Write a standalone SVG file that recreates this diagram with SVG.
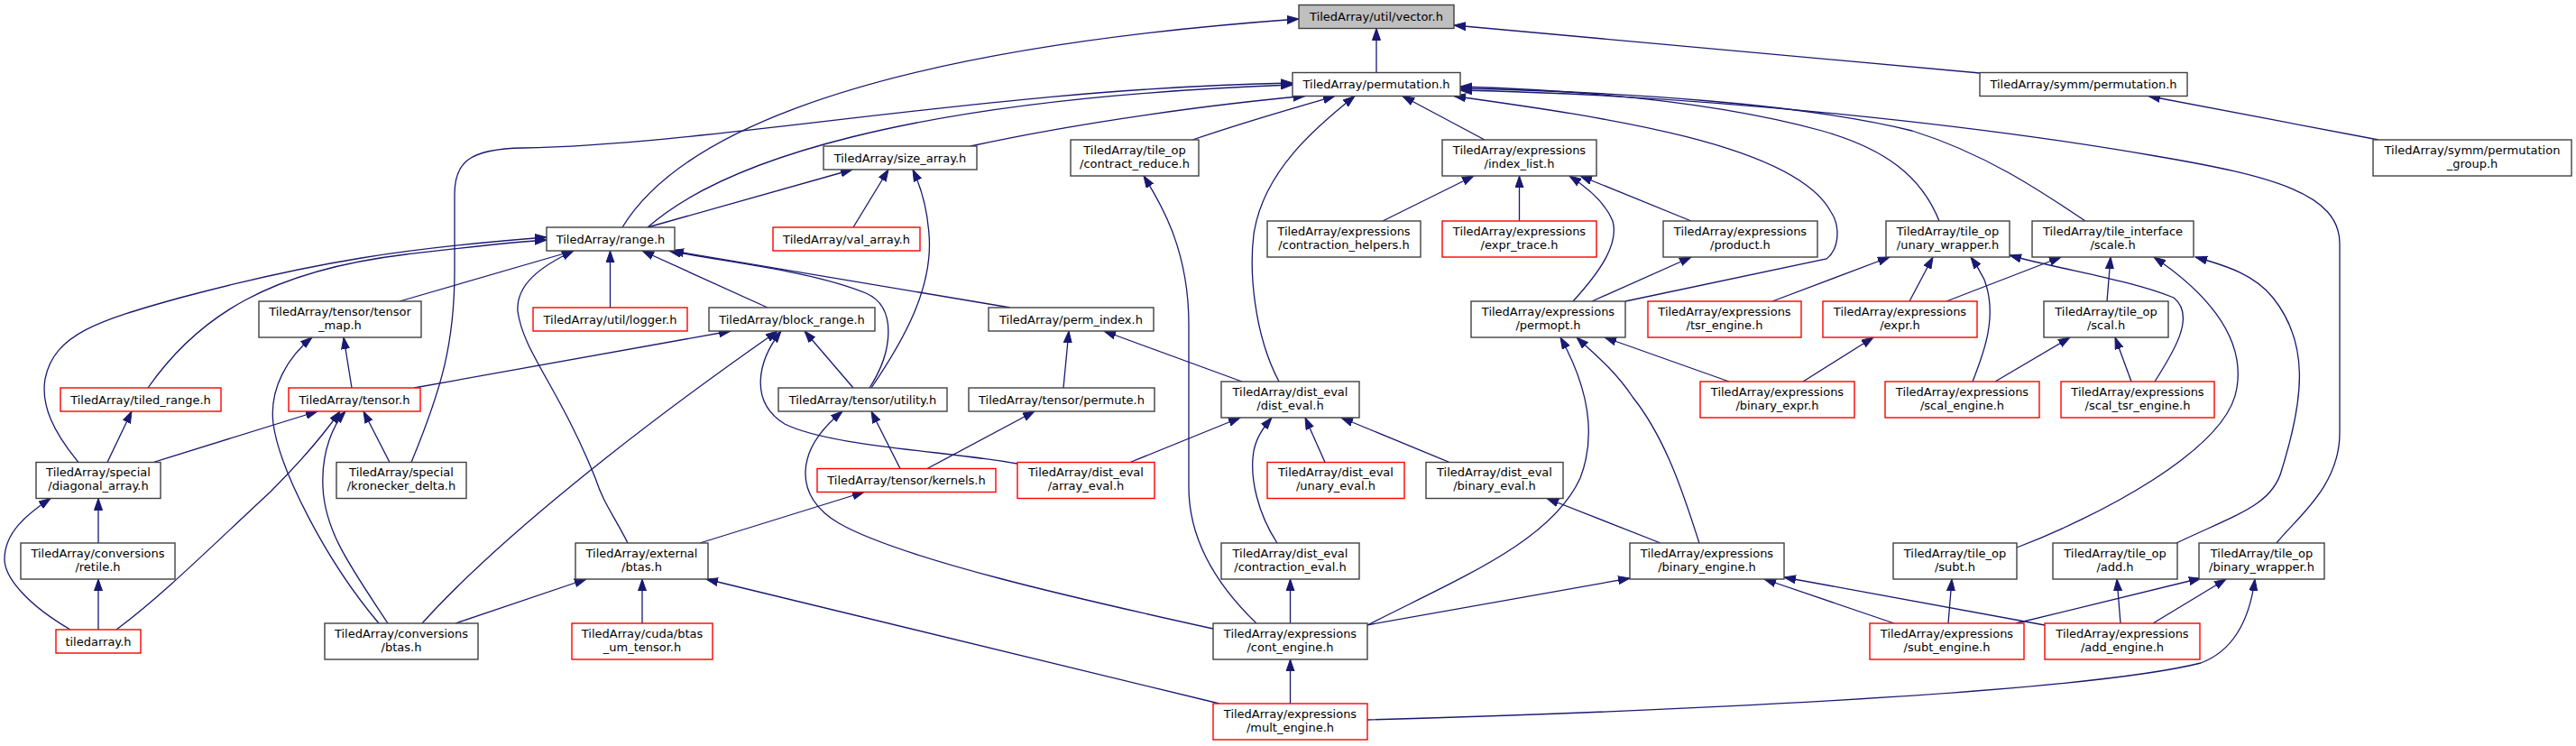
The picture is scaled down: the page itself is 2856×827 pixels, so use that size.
<svg xmlns="http://www.w3.org/2000/svg" width="2856" height="827" viewBox="0 0 2856 827">
<defs>
<style>
.n rect{fill:#fff;stroke:#404040;stroke-width:1.4}
.n.r rect{stroke:#ff0000}
.n.root rect{fill:#bfbfbf}
text{font-family:"DejaVu Sans",sans-serif;font-size:13px;text-anchor:middle;fill:#000}
.e path{fill:none;stroke:#191970;stroke-width:1.3;marker-end:url(#a)}
</style>
<marker id="a" markerWidth="14" markerHeight="10" refX="13" refY="5" orient="auto" markerUnits="userSpaceOnUse"><path d="M0,0.5 L13,5 L0,9.5 z" fill="#191970" stroke="#191970" stroke-width="1"/></marker>
</defs>
<rect width="2856" height="827" fill="#fff"/>
<g id="edges" class="e">
<path d="M1526,80.5 L1526,31.5"/>
<path d="M2195,81 L1612,28"/>
<path d="M690,252 C740,170 900,60 1440,21"/>
<path d="M2637,155 L2382,106.5"/>
<path d="M718,252 C800,180 1000,110 1433,94"/>
<path d="M456,512.5 C490,430 504,380 504,300 L504,215 C504,180 520,165 580,164 C800,160 1100,98 1433,92"/>
<path d="M1076,162 C1200,135 1350,115 1447,106.5"/>
<path d="M1322,155 C1380,135 1440,118 1480,106.5"/>
<path d="M1418,423 C1390,370 1385,300 1390,260 C1400,190 1460,140 1502,106.5"/>
<path d="M1646,155 L1555,106.5"/>
<path d="M1802,334 L2025,287 C2040,275 2040,250 2030,235 C1990,160 1780,130 1612,106.5"/>
<path d="M2150,245 C2130,195 2090,165 2020,145 C1900,112 1750,100 1619,96"/>
<path d="M2312,245 C2260,210 2200,170 2120,145 C2000,115 1800,102 1619,98"/>
<path d="M2524,602 C2545,575 2594,540 2594,480 L2594,270 C2594,215 2520,195 2390,173 C2200,140 1900,106 1619,100"/>
<path d="M718,252 L945,188"/>
<path d="M946,252 L985,188"/>
<path d="M966,430 C1000,380 1035,320 1030,260 C1028,230 1020,205 1012,188"/>
<path d="M1393,691 C1340,640 1318,590 1318,540 L1318,360 C1318,280 1290,230 1268,195"/>
<path d="M1533,245 L1634,195"/>
<path d="M1684.5,245 L1684.5,195"/>
<path d="M1744,334 C1775,300 1795,270 1788,245 C1780,225 1760,208 1740,195"/>
<path d="M1875,245 L1752,195"/>
<path d="M1765,334 L1875,285"/>
<path d="M164,430 C220,350 300,300 450,282 C520,274 570,268 606,266"/>
<path d="M87,512.5 C60,480 45,450 50,420 C60,370 110,355 200,330 C350,290 450,275 606,263"/>
<path d="M443,334 L636,278"/>
<path d="M696,602 C680,570 670,560 660,530 C620,430 580,390 574,345 C572,315 600,295 636,278"/>
<path d="M676.5,341 L676.5,278"/>
<path d="M851,341 L712,278"/>
<path d="M964,430 C990,390 995,340 960,325 C900,300 800,290 742,278"/>
<path d="M1120,341 L745,278"/>
<path d="M390,430 L381,374"/>
<path d="M420,691 C360,620 310,520 303,470 C298,430 320,395 346,374"/>
<path d="M170,512.5 L352,456"/>
<path d="M129,698 C180,660 230,610 300,545 C330,515 360,480 377,456"/>
<path d="M430,691 C390,630 360,590 358,540 C356,500 370,470 383,456"/>
<path d="M432,512.5 L403,456"/>
<path d="M459,430 L810,367"/>
<path d="M119,512.5 L146,456"/>
<path d="M109,602 L109,552.5"/>
<path d="M78,698 C30,670 5,640 5,620 C5,590 30,570 56,552.5"/>
<path d="M109,698 L109,642"/>
<path d="M946,430 L892,367"/>
<path d="M468,691 C550,600 700,480 862,367"/>
<path d="M1128,514 C1050,500 920,495 870,470 C830,445 840,400 866,367"/>
<path d="M1179,430 L1185,367"/>
<path d="M1377,423 L1224,367"/>
<path d="M998,519.5 L966,456"/>
<path d="M1345,697 C1200,665 1000,620 930,580 C880,550 880,500 934,456"/>
<path d="M1028,519.5 L1147,456"/>
<path d="M776,602 L958,545.5"/>
<path d="M1253,512.5 L1375,463"/>
<path d="M1469,512.5 L1447,463"/>
<path d="M1607,512.5 L1487,463"/>
<path d="M1416,602 C1395,570 1385,530 1390,500 C1393,485 1400,475 1410,463"/>
<path d="M1841,602 L1715,552.5"/>
<path d="M1430.5,691 L1430.5,642"/>
<path d="M1430.5,780 L1430.5,731"/>
<path d="M1515,693 L1807,641"/>
<path d="M2100,691 L1956,642"/>
<path d="M2267,693 L1978,640"/>
<path d="M1516,693 C1620,640 1720,600 1752,530 C1775,470 1750,410 1730,374"/>
<path d="M1884,602 C1870,560 1850,490 1810,440 C1790,410 1765,390 1748,374"/>
<path d="M1917,423 L1779,374"/>
<path d="M1999,423 L2077,374"/>
<path d="M1965,334 L2095,285"/>
<path d="M2117,334 L2143,285"/>
<path d="M2187,423 C2200,390 2215,350 2200,310 C2195,300 2190,292 2185,285"/>
<path d="M2389,423 C2410,390 2435,350 2410,330 C2360,310 2290,300 2228,283"/>
<path d="M2158,334 L2285,285"/>
<path d="M2336,334 L2340,285"/>
<path d="M2236,607 C2320,575 2470,500 2480,430 C2490,370 2440,320 2388,285"/>
<path d="M2413,602 C2480,570 2520,560 2530,520 C2555,440 2560,380 2520,330 C2500,305 2470,295 2434,285"/>
<path d="M2212,423 L2295,374"/>
<path d="M2363,423 L2345,374"/>
<path d="M2160,691 L2164,642"/>
<path d="M2351,691 L2347,642"/>
<path d="M2235,691 L2440,641"/>
<path d="M2387,691 L2468,642"/>
<path d="M1516,798 C1800,790 2300,770 2440,735 C2480,720 2495,680 2500,642"/>
<path d="M505,691 L650,642"/>
<path d="M712,691 L712,642"/>
<path d="M1352,780 L783,642"/>
</g>
<g id="n1" class="n root"><rect x="1440" y="5.5" width="172" height="26"/><text x="1526" y="23">TiledArray/util/vector.h</text></g>
<g id="n2" class="n"><rect x="1433" y="80.5" width="186" height="26"/><text x="1526" y="98">TiledArray/permutation.h</text></g>
<g id="n3" class="n"><rect x="2195" y="80.5" width="230" height="26"/><text x="2310" y="98">TiledArray/symm/permutation.h</text></g>
<g id="n4" class="n"><rect x="913" y="162" width="170" height="26"/><text x="998" y="179.5">TiledArray/size_array.h</text></g>
<g id="n5" class="n"><rect x="1187" y="155" width="142" height="40"/><text x="1258" y="170.5">TiledArray/tile_op</text><text x="1258" y="185.5">/contract_reduce.h</text></g>
<g id="n6" class="n"><rect x="1599" y="155" width="171" height="40"/><text x="1684.5" y="170.5">TiledArray/expressions</text><text x="1684.5" y="185.5">/index_list.h</text></g>
<g id="n7" class="n"><rect x="2631" y="155" width="220" height="40"/><text x="2741" y="170.5">TiledArray/symm/permutation</text><text x="2741" y="185.5">_group.h</text></g>
<g id="n8" class="n"><rect x="606" y="252" width="142" height="26"/><text x="677" y="269.5">TiledArray/range.h</text></g>
<g id="n9" class="n r"><rect x="857" y="252" width="163" height="26"/><text x="938.5" y="269.5">TiledArray/val_array.h</text></g>
<g id="n10" class="n"><rect x="1405" y="245" width="170" height="40"/><text x="1490" y="260.5">TiledArray/expressions</text><text x="1490" y="275.5">/contraction_helpers.h</text></g>
<g id="n11" class="n r"><rect x="1599" y="245" width="171" height="40"/><text x="1684.5" y="260.5">TiledArray/expressions</text><text x="1684.5" y="275.5">/expr_trace.h</text></g>
<g id="n12" class="n"><rect x="1844" y="245" width="171" height="40"/><text x="1929.5" y="260.5">TiledArray/expressions</text><text x="1929.5" y="275.5">/product.h</text></g>
<g id="n13" class="n"><rect x="2091" y="245" width="137" height="40"/><text x="2159.5" y="260.5">TiledArray/tile_op</text><text x="2159.5" y="275.5">/unary_wrapper.h</text></g>
<g id="n14" class="n"><rect x="2253" y="245" width="179" height="40"/><text x="2342.5" y="260.5">TiledArray/tile_interface</text><text x="2342.5" y="275.5">/scale.h</text></g>
<g id="n15" class="n"><rect x="287" y="334" width="180" height="40"/><text x="377" y="349.5">TiledArray/tensor/tensor</text><text x="377" y="364.5">_map.h</text></g>
<g id="n16" class="n r"><rect x="591" y="341" width="171" height="26"/><text x="676.5" y="358.5">TiledArray/util/logger.h</text></g>
<g id="n17" class="n"><rect x="786" y="341" width="184" height="26"/><text x="878" y="358.5">TiledArray/block_range.h</text></g>
<g id="n18" class="n"><rect x="1096" y="341" width="183" height="26"/><text x="1187.5" y="358.5">TiledArray/perm_index.h</text></g>
<g id="n19" class="n"><rect x="1631" y="334" width="171" height="40"/><text x="1716.5" y="349.5">TiledArray/expressions</text><text x="1716.5" y="364.5">/permopt.h</text></g>
<g id="n20" class="n r"><rect x="1827" y="334" width="170" height="40"/><text x="1912" y="349.5">TiledArray/expressions</text><text x="1912" y="364.5">/tsr_engine.h</text></g>
<g id="n21" class="n r"><rect x="2021" y="334" width="171" height="40"/><text x="2106.5" y="349.5">TiledArray/expressions</text><text x="2106.5" y="364.5">/expr.h</text></g>
<g id="n22" class="n"><rect x="2266" y="334" width="138" height="40"/><text x="2335" y="349.5">TiledArray/tile_op</text><text x="2335" y="364.5">/scal.h</text></g>
<g id="n23" class="n r"><rect x="67" y="430" width="178" height="26"/><text x="156" y="447.5">TiledArray/tiled_range.h</text></g>
<g id="n24" class="n r"><rect x="320" y="430" width="146" height="26"/><text x="393" y="447.5">TiledArray/tensor.h</text></g>
<g id="n25" class="n"><rect x="863" y="430" width="187" height="26"/><text x="956.5" y="447.5">TiledArray/tensor/utility.h</text></g>
<g id="n26" class="n"><rect x="1074" y="430" width="206" height="26"/><text x="1177" y="447.5">TiledArray/tensor/permute.h</text></g>
<g id="n27" class="n"><rect x="1354" y="423" width="153" height="40"/><text x="1430.5" y="438.5">TiledArray/dist_eval</text><text x="1430.5" y="453.5">/dist_eval.h</text></g>
<g id="n28" class="n r"><rect x="1885" y="423" width="171" height="40"/><text x="1970.5" y="438.5">TiledArray/expressions</text><text x="1970.5" y="453.5">/binary_expr.h</text></g>
<g id="n29" class="n r"><rect x="2090" y="423" width="171" height="40"/><text x="2175.5" y="438.5">TiledArray/expressions</text><text x="2175.5" y="453.5">/scal_engine.h</text></g>
<g id="n30" class="n r"><rect x="2285" y="423" width="170" height="40"/><text x="2370" y="438.5">TiledArray/expressions</text><text x="2370" y="453.5">/scal_tsr_engine.h</text></g>
<g id="n31" class="n"><rect x="40" y="512.5" width="138" height="40"/><text x="109" y="528">TiledArray/special</text><text x="109" y="543">/diagonal_array.h</text></g>
<g id="n32" class="n"><rect x="373" y="512.5" width="144" height="40"/><text x="445" y="528">TiledArray/special</text><text x="445" y="543">/kronecker_delta.h</text></g>
<g id="n33" class="n r"><rect x="906" y="519.5" width="198" height="26"/><text x="1005" y="537">TiledArray/tensor/kernels.h</text></g>
<g id="n34" class="n r"><rect x="1128" y="512.5" width="152" height="40"/><text x="1204" y="528">TiledArray/dist_eval</text><text x="1204" y="543">/array_eval.h</text></g>
<g id="n35" class="n r"><rect x="1405" y="512.5" width="152" height="40"/><text x="1481" y="528">TiledArray/dist_eval</text><text x="1481" y="543">/unary_eval.h</text></g>
<g id="n36" class="n"><rect x="1581" y="512.5" width="152" height="40"/><text x="1657" y="528">TiledArray/dist_eval</text><text x="1657" y="543">/binary_eval.h</text></g>
<g id="n37" class="n"><rect x="23" y="602" width="171" height="40"/><text x="108.5" y="617.5">TiledArray/conversions</text><text x="108.5" y="632.5">/retile.h</text></g>
<g id="n38" class="n"><rect x="638" y="602" width="147" height="40"/><text x="711.5" y="617.5">TiledArray/external</text><text x="711.5" y="632.5">/btas.h</text></g>
<g id="n39" class="n"><rect x="1354" y="602" width="153" height="40"/><text x="1430.5" y="617.5">TiledArray/dist_eval</text><text x="1430.5" y="632.5">/contraction_eval.h</text></g>
<g id="n40" class="n"><rect x="1807" y="602" width="171" height="40"/><text x="1892.5" y="617.5">TiledArray/expressions</text><text x="1892.5" y="632.5">/binary_engine.h</text></g>
<g id="n41" class="n"><rect x="2099" y="602" width="137" height="40"/><text x="2167.5" y="617.5">TiledArray/tile_op</text><text x="2167.5" y="632.5">/subt.h</text></g>
<g id="n42" class="n"><rect x="2276" y="602" width="138" height="40"/><text x="2345" y="617.5">TiledArray/tile_op</text><text x="2345" y="632.5">/add.h</text></g>
<g id="n43" class="n"><rect x="2438" y="602" width="139" height="40"/><text x="2507.5" y="617.5">TiledArray/tile_op</text><text x="2507.5" y="632.5">/binary_wrapper.h</text></g>
<g id="n44" class="n r"><rect x="62" y="698" width="94" height="26"/><text x="109" y="715.5">tiledarray.h</text></g>
<g id="n45" class="n"><rect x="360" y="691" width="170" height="40"/><text x="445" y="706.5">TiledArray/conversions</text><text x="445" y="721.5">/btas.h</text></g>
<g id="n46" class="n r"><rect x="634" y="691" width="156" height="40"/><text x="712" y="706.5">TiledArray/cuda/btas</text><text x="712" y="721.5">_um_tensor.h</text></g>
<g id="n47" class="n"><rect x="1345" y="691" width="171" height="40"/><text x="1430.5" y="706.5">TiledArray/expressions</text><text x="1430.5" y="721.5">/cont_engine.h</text></g>
<g id="n48" class="n r"><rect x="2073" y="691" width="171" height="40"/><text x="2158.5" y="706.5">TiledArray/expressions</text><text x="2158.5" y="721.5">/subt_engine.h</text></g>
<g id="n49" class="n r"><rect x="2267" y="691" width="172" height="40"/><text x="2353" y="706.5">TiledArray/expressions</text><text x="2353" y="721.5">/add_engine.h</text></g>
<g id="n50" class="n r"><rect x="1345" y="780" width="171" height="40"/><text x="1430.5" y="795.5">TiledArray/expressions</text><text x="1430.5" y="810.5">/mult_engine.h</text></g>
</svg>
